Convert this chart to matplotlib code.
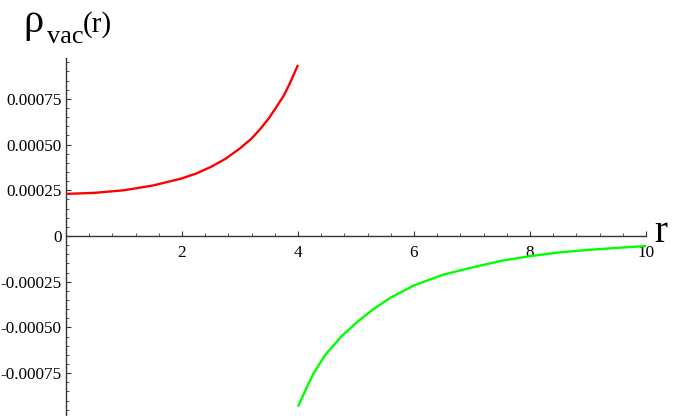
import matplotlib
matplotlib.use("Agg")
import matplotlib.pyplot as plt
from matplotlib.ticker import MultipleLocator, FixedLocator

plt.rcParams['font.family'] = ['Liberation Serif', 'DejaVu Serif']

# Data
r_inner = [0.0, 0.5, 1.0, 1.5, 2.0, 2.25, 2.5, 2.75, 3.0, 3.2, 3.35, 3.5,
           3.6, 3.75, 3.85, 3.92, 4.0]
rho_inner = [0.000230, 0.000236, 0.000250, 0.000276, 0.000315, 0.000342,
             0.000378, 0.000422, 0.000479, 0.000533, 0.000585, 0.000645,
             0.000692, 0.000765, 0.000828, 0.000878, 0.000935]

r_outer = [4.0, 4.13, 4.27, 4.47, 4.76, 5.05, 5.28, 5.6, 6.0, 6.5, 7.0, 7.5,
           8.0, 8.5, 9.0, 9.5, 10.0]
rho_outer = [-0.000933, -0.000842, -0.000750, -0.000650, -0.000545, -0.000462,
             -0.000405, -0.000336, -0.000270, -0.000212, -0.000172, -0.000136,
             -0.000110, -0.000090, -0.000076, -0.000065, -0.000055]

x_ticks = [2, 4, 6, 8, 10]
x_labels = ["2", "4", "6", "8", "10"]
y_ticks = [-0.00075, -0.0005, -0.00025, 0.0, 0.00025, 0.0005, 0.00075]
y_labels = ["-0.00075", "-0.00050", "-0.00025", "0", "0.00025", "0.00050", "0.00075"]

W, H = 675, 416
fig = plt.figure(figsize=(W / 100, H / 100), dpi=100)
ax = fig.add_axes([66 / W, 0.0, (646 - 66) / W, (416 - 58) / H])

ax.plot(r_inner, rho_inner, color='#ff0000', lw=1.7, solid_capstyle='butt',
        solid_joinstyle='round', zorder=3)
ax.plot(r_outer, rho_outer, color='#00ff00', lw=1.7, solid_capstyle='butt',
        solid_joinstyle='round', zorder=3)

ax.set_xlim(0, 10)
ax.set_ylim(-0.000984, 0.000973)

axis_col = '#333333'
for s in ['top', 'right']:
    ax.spines[s].set_visible(False)
ax.spines['bottom'].set_position(('data', 0))
ax.spines['left'].set_position(('data', 0))
ax.spines['bottom'].set_color(axis_col)
ax.spines['left'].set_color(axis_col)
ax.spines['bottom'].set_linewidth(1.0)
ax.spines['left'].set_linewidth(1.0)

ax.xaxis.set_major_locator(FixedLocator(x_ticks))
ax.set_xticklabels(x_labels)
ax.xaxis.set_minor_locator(MultipleLocator(0.4))
ax.yaxis.set_major_locator(FixedLocator(y_ticks))
ax.set_yticklabels(y_labels)
ax.yaxis.set_minor_locator(MultipleLocator(0.00005))

ax.tick_params(axis='both', which='major', direction='in', length=3.5, width=0.8,
               color=axis_col, labelsize=12.3, labelcolor='black')
ax.tick_params(axis='both', which='minor', direction='in', length=2.0, width=0.6,
               color=axis_col)
ax.tick_params(axis='x', which='major', pad=6.5)
ax.tick_params(axis='y', which='major', pad=3)

ax.patch.set_visible(False)

# y-axis title: rho with subscript "vac" and "(r)"
fig.text(23 / W, 1 - 32 / H, 'ρ', fontsize=29, ha='left', va='baseline')
fig.text(47 / W, 1 - 43 / H, 'vac', fontsize=19, ha='left', va='baseline')
fig.text(83 / W, 1 - 32 / H, '(r)', fontsize=21, ha='left', va='baseline')

# x-axis title
fig.text(654 / W, 1 - 242 / H, 'r', fontsize=28, ha='left', va='baseline')

fig.savefig('out.png', dpi=100)
